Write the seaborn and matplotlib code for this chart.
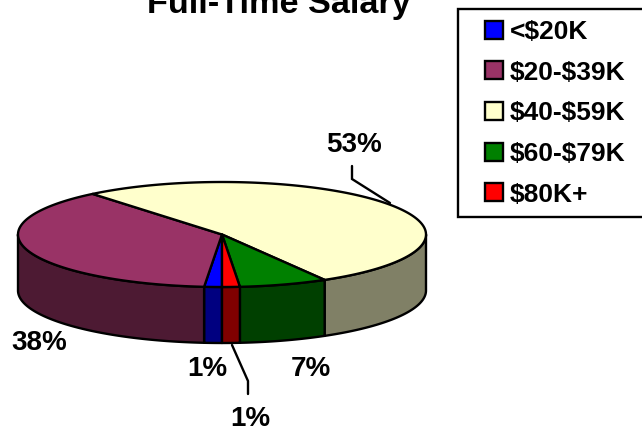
#!/usr/bin/env python3
"""Full-Time Salary: 3D-look pie drawn on a pixel-sized axes."""

import numpy as np
import matplotlib
matplotlib.use("Agg")
import matplotlib.pyplot as plt
from matplotlib.patches import Rectangle
import seaborn as sns

# Data
CATEGORIES = ["<$20K", "$20-$39K", "$40-$59K", "$60-$79K", "$80K+"]
SHARES = [1.4, 37.7, 52.6, 7.0, 1.4]
TOP_COLORS = ["#0000FF", "#993366", "#FFFFCC", "#008000", "#FF0000"]
TITLE = "Full-Time Salary"

# Layout (pixels), label positions are centre x / baseline y
CX, CY, RX, RY, DEPTH = 222, 234.5, 204, 52.5, 56
LABEL_POS = [(207, 376), (39, 350), (354, 152), (311, 376), (250, 426)]
LEADERS = [
    ([352, 352, 390], [166, 179, 203]),
    ([232, 248, 248], [345, 381, 394]),
]
LW = 1.7


def ellipse_xy(t):
    return CX + RX * np.cos(t), CY - RY * np.sin(t)


def main() -> None:
    sns.set_theme(style="white")
    plt.rcParams["font.family"] = ["Liberation Sans", "DejaVu Sans"]
    plt.rcParams["font.weight"] = "bold"
    plt.rcParams["text.parse_math"] = False

    palette = sns.color_palette(TOP_COLORS)
    side_colors = [tuple(c * 0.5 for c in col) for col in palette]

    fig = plt.figure(figsize=(6.42, 4.28), dpi=100)
    ax = fig.add_axes([0, 0, 1, 1])
    ax.set_xlim(0, 642)
    ax.set_ylim(428, 0)
    ax.axis("off")

    # slices run clockwise from straight down
    fractions = np.array(SHARES) / sum(SHARES)
    ends = -np.pi / 2 - 2 * np.pi * np.cumsum(fractions)
    starts = np.r_[-np.pi / 2, ends[:-1]]

    # front wall: only the part of each slice facing the viewer
    for a, b, col in zip(starts, ends, side_colors):
        for shift in (0, -2 * np.pi, 2 * np.pi):
            lo = max(b + shift, -np.pi)
            hi = min(a + shift, 0)
            if lo >= hi:
                continue
            t = np.linspace(lo, hi, 120)
            x, y = ellipse_xy(t)
            ax.fill(np.r_[x, x[::-1]], np.r_[y, y[::-1] + DEPTH],
                    facecolor=col, edgecolor="black", lw=LW, joinstyle="round", zorder=2)

    # top face
    for a, b, col in zip(starts, ends, palette):
        t = np.linspace(a, b, 240)
        x, y = ellipse_xy(t)
        ax.fill(np.r_[CX, x], np.r_[CY, y],
                facecolor=col, edgecolor="black", lw=LW, joinstyle="round", zorder=3)

    # percent labels
    for share, (px, py) in zip(fractions, LABEL_POS):
        ax.text(px, py, f"{round(share * 100)}%", ha="center", va="baseline",
                fontsize=20, fontweight="bold", color="black", zorder=5)

    for xs, ys in LEADERS:
        ax.plot(xs, ys, color="black", lw=LW, solid_joinstyle="miter", zorder=4)

    # the title sits partly above the top edge, as in the original
    ax.text(279, 13, TITLE, ha="center", va="baseline",
            fontsize=24.7, fontweight="bold", color="black", zorder=5)

    # legend box runs off the right edge of the picture
    ax.add_patch(Rectangle((458, 9), 200, 208, facecolor="white",
                           edgecolor="black", lw=LW, zorder=1))
    handles = [Rectangle((0, 0), 1, 1, facecolor=c, edgecolor="black", lw=LW) for c in palette]
    ax.legend(handles, CATEGORIES, loc="upper left", bbox_to_anchor=(485 / 642, 1 - 20 / 428),
              frameon=False, fontsize=19, labelcolor="black", borderpad=0, borderaxespad=0,
              handlelength=0.68, handleheight=0.68, handletextpad=0.27, labelspacing=0.63)

    fig.savefig("out.png", dpi=100)
    plt.close(fig)


if __name__ == "__main__":
    main()
